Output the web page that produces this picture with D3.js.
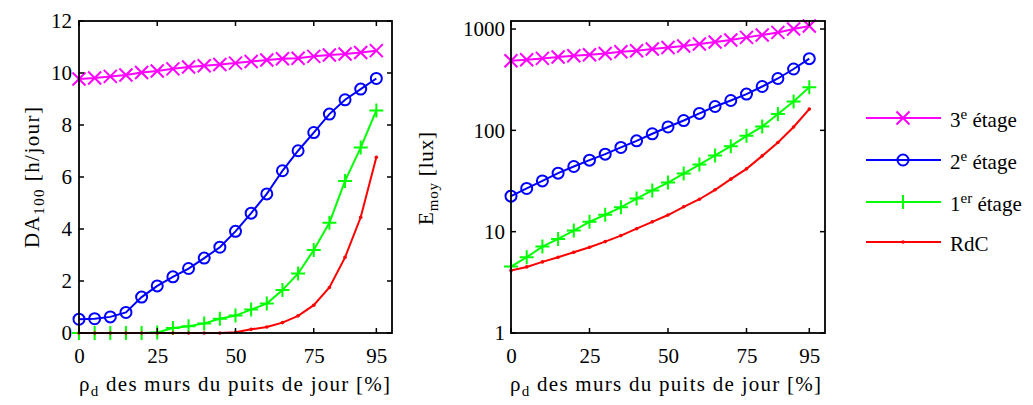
<!DOCTYPE html>
<html><head><meta charset="utf-8">
<script src="https://cdn.jsdelivr.net/npm/d3@7"></script>
<style>
body{margin:0;background:#fff;}
</style></head>
<body><svg id="c" width="1033" height="405"></svg>
<script>
const xs = [0,5,10,15,20,25,30,35,40,45,50,55,60,65,70,75,80,85,90,95];
const xTicks = [0,25,50,75,95];
const yTicksLeft = [0,2,4,6,8,10,12];
const yTicksRight = [1,10,100,1000];

// DA100 [h/jour]
const da3 = [9.77,9.81,9.87,9.92,10.02,10.08,10.16,10.23,10.28,10.33,10.38,10.44,10.50,10.55,10.57,10.64,10.69,10.73,10.79,10.86];
const da2 = [0.53,0.55,0.62,0.79,1.38,1.81,2.16,2.48,2.88,3.30,3.91,4.61,5.35,6.24,7.01,7.71,8.42,8.97,9.38,9.79];
const da1 = [0,0,0,0,0,0.02,0.19,0.26,0.37,0.55,0.67,0.90,1.13,1.65,2.29,3.19,4.24,5.85,7.13,8.56];
const da0 = [0,0,0,0,0,0,0,0,0,0,0.03,0.14,0.23,0.40,0.66,1.07,1.75,2.91,4.45,6.76];

// Emoy [lux]
const e3 = [486,498,513,529,545,557,574,597,611,634,658,679,711,745,780,827,873,926,1000,1070];
const e2 = [22.4,26.7,31.7,37.8,44,50.8,58.2,67.8,78.8,92.5,108,125,147,172,197,228,271,325,403,510];
const e1 = [4.52,5.6,7.12,8.48,10.25,12.5,14.7,17.4,21.2,25.5,30.5,37.5,46,56.5,69.8,88.3,109,145,193,267];
const e0 = [4.13,4.49,5.03,5.6,6.27,7.02,7.98,9.15,10.7,12.5,14.6,17.6,20.9,25.9,33,41.7,56,75.9,108,162];

const colors = ["#ff00ff","#0000ff","#00ff00","#ff0000"];
const markers = ["x","o","+","."];
const FONT = '"Liberation Serif", Tinos, "Times New Roman", Times, "DejaVu Serif", "Noto Serif", serif';

const svg = d3.select("#c");
const FS = 21;

function fitWidth(sel, target){
  const node = sel.node();
  const w = node.getBBox().width;
  const n = node.textContent.length;
  if(n>1) sel.style("letter-spacing", ((target - w)/(n-1)).toFixed(2)+"px");
}

function drawMarker(g, type, x, y, color){
  if(type==="x"){
    const s=6.5;
    g.append("path").attr("d",`M${x-s},${y-s}L${x+s},${y+s}M${x-s},${y+s}L${x+s},${y-s}`)
      .attr("stroke",color).attr("stroke-width",2).attr("fill","none");
  } else if(type==="o"){
    g.append("circle").attr("cx",x).attr("cy",y).attr("r",5.5)
      .attr("stroke",color).attr("stroke-width",2).attr("fill","none");
  } else if(type==="+"){
    const s=7;
    g.append("path").attr("d",`M${x-s},${y}L${x+s},${y}M${x},${y-s}L${x},${y+s}`)
      .attr("stroke",color).attr("stroke-width",2).attr("fill","none");
  } else {
    g.append("circle").attr("cx",x).attr("cy",y).attr("r",1.8).attr("fill",color);
  }
}

function panel(left, right, top, bottom, yScaleType, yTicks, data, yDomain, xlabLeft){
  const x = d3.scaleLinear().domain([0,100]).range([left,right]);
  const y = (yScaleType==="log" ? d3.scaleLog() : d3.scaleLinear()).domain(yDomain).range([bottom,top]);
  const g = svg.append("g");
  const clipId = "clip"+left;
  svg.append("clipPath").attr("id",clipId).append("rect")
    .attr("x",left-8).attr("y",top-8).attr("width",right-left+16).attr("height",bottom-top+16);
  const pg = g.append("g").attr("clip-path",`url(#${clipId})`);
  data.forEach((vals,i)=>{
    const line = d3.line().x((d,j)=>x(xs[j])).y(d=>y(d));
    pg.append("path").attr("d",line(vals)).attr("fill","none")
      .attr("stroke",colors[i]).attr("stroke-width",2);
    vals.forEach((v,j)=>drawMarker(pg, markers[i], x(xs[j]), y(v), colors[i]));
  });
  g.append("rect").attr("x",left).attr("y",top).attr("width",right-left).attr("height",bottom-top)
    .attr("fill","none").attr("stroke","#000").attr("stroke-width",1.8);
  const tl = 5;
  const xb = g.append("g").attr("transform",`translate(0,${bottom})`)
    .call(d3.axisBottom(x).tickValues(xTicks).tickSize(0).tickPadding(0).tickFormat(d3.format("d")));
  xb.select(".domain").remove();
  xb.attr("font-family",null).attr("font-size",null);
  xb.selectAll("text").attr("dy",null).attr("y",30).style("font-family",FONT).style("font-size",FS+"px");
  xTicks.forEach(t=>{
    g.append("line").attr("x1",x(t)).attr("x2",x(t)).attr("y1",bottom).attr("y2",bottom-tl).attr("stroke","#000").attr("stroke-width",1.5);
    g.append("line").attr("x1",x(t)).attr("x2",x(t)).attr("y1",top).attr("y2",top+tl).attr("stroke","#000").attr("stroke-width",1.5);
  });
  const yl = g.append("g").attr("transform",`translate(${left},0)`)
    .call(d3.axisLeft(y).tickValues(yTicks).tickSize(0).tickPadding(yScaleType==="log"?6:7).tickFormat(d3.format("d")));
  yl.select(".domain").remove();
  yl.attr("font-family",null).attr("font-size",null);
  yl.selectAll("text").style("font-family",FONT).style("font-size",FS+"px");
  yTicks.forEach(t=>{
    g.append("line").attr("x1",left).attr("x2",left+tl).attr("y1",y(t)).attr("y2",y(t)).attr("stroke","#000").attr("stroke-width",1.5);
    g.append("line").attr("x1",right).attr("x2",right-tl).attr("y1",y(t)).attr("y2",y(t)).attr("stroke","#000").attr("stroke-width",1.5);
  });
  const xt = svg.append("text").attr("x",xlabLeft).attr("y",391).attr("text-anchor","start")
    .style("font-family",FONT).style("font-size",FS+"px");
  xt.append("tspan").text("ρ");
  xt.append("tspan").text("d").style("font-size","15px").attr("dy",5);
  xt.append("tspan").text(" des murs du puits de jour [%]").attr("dy",-5);
  fitWidth(xt, 311);
  return {x,y};
}

panel(79, 392, 21, 333, "linear", yTicksLeft, [da3,da2,da1,da0], [0,12], 79);
panel(511, 825, 21, 333, "log", yTicksRight, [e3,e2,e1,e0], [1,1200], 510);

const yl1 = svg.append("text").attr("transform","translate(39,248) rotate(-90)").attr("text-anchor","start")
  .style("font-family",FONT).style("font-size",FS+"px");
yl1.append("tspan").text("DA");
yl1.append("tspan").text("100").style("font-size","15px").attr("dy",5);
yl1.append("tspan").text(" [h/jour]").attr("dy",-5);
fitWidth(yl1, 141);

const yl2 = svg.append("text").attr("transform","translate(433,225) rotate(-90)").attr("text-anchor","start")
  .style("font-family",FONT).style("font-size",FS+"px");
yl2.append("tspan").text("E");
yl2.append("tspan").text("moy").style("font-size","15px").attr("dy",5);
yl2.append("tspan").text(" [lux]").attr("dy",-5);
fitWidth(yl2, 93);

const legY = [118,160,202,242];
const legSup = ["e","e","er",""];
const legMain = ["3","2","1","RdC"];
const lg = svg.append("g");
legY.forEach((ly,i)=>{
  lg.append("line").attr("x1",866).attr("x2",941).attr("y1",ly).attr("y2",ly).attr("stroke",colors[i]).attr("stroke-width",2);
  drawMarker(lg, markers[i], 903, ly, colors[i]);
  const t = lg.append("text").attr("x",950).attr("y",ly+9).style("font-family",FONT).style("font-size",FS+"px");
  t.append("tspan").text(legMain[i]);
  if(legSup[i]){
    t.append("tspan").text(legSup[i]).style("font-size","15px").attr("dy",-8);
    t.append("tspan").text(" étage").attr("dy",8);
  }
});
</script></body></html>
